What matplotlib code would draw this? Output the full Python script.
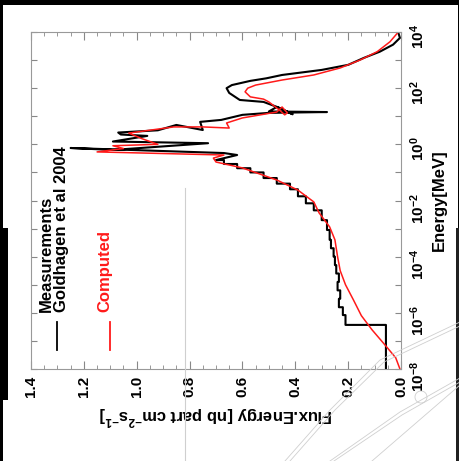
import numpy as np
import matplotlib
matplotlib.use("Agg")
import matplotlib.pyplot as plt
from matplotlib.lines import Line2D
from matplotlib.patches import Rectangle, Circle
from matplotlib.ticker import FixedLocator, MultipleLocator, FuncFormatter

plt.rcParams['font.family'] = ['Liberation Sans', 'DejaVu Sans']
plt.rcParams['mathtext.fontset'] = 'custom'
plt.rcParams['mathtext.rm'] = 'Liberation Sans:bold'
plt.rcParams['mathtext.bf'] = 'Liberation Sans:bold'

# measurements (Goldhagen et al 2004): log10(E/MeV) and flux*E
meas_log_e = [-8.0, -6.43, -6.43, -6.08, -6.08, -5.8, -5.8, -5.5, -5.5, -5.2, -5.2,
              -4.9, -4.9, -4.6, -4.6, -4.3, -4.3, -4.0, -4.0, -3.7, -3.7, -3.4, -3.4,
              -3.05, -3.05, -2.7, -2.7, -2.35, -2.35, -2.1, -2.1, -1.85, -1.85, -1.6,
              -1.6, -1.4, -1.4, -1.2, -1.2, -1.0, -1.0, -0.85, -0.85, -0.7, -0.7,
              -0.56, -0.56, -0.38, -0.31, -0.13, -0.2, 0.04, 0.1, 0.3, 0.35, 0.42,
              0.5, 0.69, 0.51, 0.80, 0.87, 1.05, 1.12, 1.15, 1.17, 1.33, 1.07, 1.3,
              1.51, 1.58, 1.83, 2.0, 2.11, 2.26, 2.35, 2.47, 2.65, 2.83, 3.08, 3.30,
              3.55, 3.79, 3.97, 4.0]
meas_flux = [0.057, 0.057, 0.21, 0.21, 0.22, 0.22, 0.235, 0.235, 0.23, 0.23, 0.24,
             0.24, 0.235, 0.235, 0.245, 0.245, 0.25, 0.25, 0.255, 0.255, 0.265, 0.265,
             0.27, 0.27, 0.28, 0.28, 0.30, 0.30, 0.33, 0.33, 0.36, 0.36, 0.39, 0.39,
             0.42, 0.42, 0.47, 0.47, 0.52, 0.52, 0.57, 0.57, 0.62, 0.62, 0.67, 0.67,
             0.70, 0.62, 0.67, 1.25, 1.09, 0.73, 1.09, 0.96, 1.06, 1.07, 0.92, 0.85,
             0.75, 0.76, 0.68, 0.60, 0.50, 0.28, 0.50, 0.47, 0.41, 0.46, 0.52, 0.61,
             0.65, 0.66, 0.64, 0.57, 0.51, 0.45, 0.30, 0.20, 0.14, 0.08, 0.03, 0.004,
             0.01, 0.012]

# computed
calc_log_e = [-8.0, -7.6, -7.15, -6.6, -6.1, -5.54, -5.0, -4.5, -4.0, -3.4, -2.94,
              -2.44, -2.05, -1.63, -1.27, -0.84, -0.63, -0.49, -0.38, -0.27, -0.15,
              -0.05, 0.0, 0.2, 0.40, 0.62, 0.62, 0.58, 0.76, 0.94, 1.15, 1.33, 1.12,
              1.05, 1.22, 1.51, 1.61, 1.69, 1.87, 2.0, 2.11, 2.29, 2.47, 2.72, 3.0,
              3.3, 3.65, 4.0]
calc_flux = [0.004, 0.02, 0.06, 0.11, 0.15, 0.18, 0.21, 0.23, 0.24, 0.25, 0.27,
             0.31, 0.33, 0.39, 0.47, 0.60, 0.70, 0.71, 0.67, 1.15, 1.05, 1.09, 0.92,
             0.98, 1.03, 0.86, 0.75, 0.65, 0.66, 0.60, 0.47, 0.45, 0.43, 0.44, 0.46,
             0.50, 0.52, 0.57, 0.59, 0.58, 0.55, 0.45, 0.33, 0.23, 0.155, 0.09, 0.042,
             0.01]

flux_ticks = [0.0, 0.2, 0.4, 0.6, 0.8, 1.0, 1.2, 1.4]
decades = list(range(-8, 5))

fig = plt.figure(figsize=(4.6, 4.61), dpi=100, facecolor='black')
fig.patches.append(Rectangle((3 / 460, 0), 455 / 460, 456 / 461,
                             transform=fig.transFigure, facecolor='white',
                             edgecolor='none', zorder=-10))
# darker edges of the scanned page
fig.patches.append(Rectangle((0, 1 - 400 / 461), 8 / 460, 172 / 461,
                             transform=fig.transFigure, facecolor='black',
                             edgecolor='none', zorder=-9))
fig.patches.append(Rectangle((456 / 460, 0), 4 / 460, 1 - 228 / 461,
                             transform=fig.transFigure, facecolor='#202020',
                             edgecolor='none', zorder=-9))

ax = fig.add_axes([31 / 460, 1 - 369 / 461, 370 / 460, 337 / 461])

ax.plot(meas_flux, 10.0 ** np.array(meas_log_e), color='black', lw=1.5)
ax.plot(calc_flux, 10.0 ** np.array(calc_log_e), color='#ff1a1a', lw=1.1)

ax.set_xlim(1.4, 0.0)
ax.set_yscale('log')
ax.set_ylim(1e-8, 1e4)

ax.xaxis.set_major_locator(FixedLocator(flux_ticks))
ax.xaxis.set_minor_locator(MultipleLocator(0.05))
ax.xaxis.set_major_formatter(FuncFormatter(lambda v, p: f'{v:.1f}'))
ax.yaxis.set_major_locator(FixedLocator([10.0 ** d for d in decades]))
ax.yaxis.set_minor_locator(FixedLocator([]))
ax.yaxis.set_major_formatter(FuncFormatter(
    lambda v, p: (r'$\mathbf{10^{%d}}$' % round(np.log10(v))) if round(np.log10(v)) % 2 == 0 else ''))

ax.tick_params(axis='x', which='both', direction='in', top=True, bottom=True,
               labelrotation=90, color='#888888')
ax.tick_params(axis='x', which='major', length=6, pad=5, labelsize=11)
ax.tick_params(axis='x', which='minor', length=3)
ax.tick_params(axis='y', which='major', direction='in', left=True, right=True,
               labelleft=False, labelright=True, labelrotation=90, length=4,
               pad=5, labelsize=11, color='#888888')
for lab in ax.get_xticklabels() + ax.get_yticklabels():
    lab.set_fontweight('bold')

for sp in ax.spines.values():
    sp.set_color('#999999')
    sp.set_linewidth(0.8)

ax.set_xlabel(r'Flux.Energy [nb part cm$^{\mathrm{-2}}$s$^{\mathrm{-1}}$]',
              fontsize=12, fontweight='bold', rotation=180, labelpad=5)
ax.yaxis.set_label_position('right')
ax.set_ylabel('Energy[MeV]', fontsize=12, fontweight='bold', rotation=90, labelpad=4)

# legend drawn sideways like the rotated page
ax.add_line(Line2D([0.070, 0.070], [0.056, 0.139], transform=ax.transAxes,
                   color='black', lw=1.3))
ax.text(0.062, 0.169, 'Measurements\nGoldhagen et al 2004', transform=ax.transAxes,
        rotation=90, ha='center', va='bottom', fontsize=12, fontweight='bold',
        linespacing=1.0, multialignment='left')
ax.add_line(Line2D([0.214, 0.214], [0.056, 0.139], transform=ax.transAxes,
                   color='#ff1a1a', lw=1.3))
ax.text(0.200, 0.169, 'Computed', transform=ax.transAxes, rotation=90,
        ha='center', va='bottom', fontsize=12, fontweight='bold', color='#ff1a1a')

# scan artefacts
gray = '#cfcfcf'
fig.add_artist(Line2D([185 / 460, 185 / 460], [0, 1 - 188 / 461], color=gray, lw=0.8))
for pts in ([(285, 461), (330, 410), (380, 360), (460, 322)],
            [(290, 461), (335, 410), (384, 362), (460, 326)],
            [(330, 461), (400, 412), (460, 378)],
            [(334, 461), (402, 415), (460, 382)],
            [(372, 461), (460, 385)]):
    xs = [p[0] / 460 for p in pts]
    ys = [1 - p[1] / 461 for p in pts]
    fig.add_artist(Line2D(xs, ys, color=gray, lw=0.6))
fig.add_artist(Circle((421 / 460, 1 - 397 / 461), 6 / 460, transform=fig.transFigure,
                      facecolor='white', edgecolor=gray, lw=0.6))

fig.savefig('out.png', dpi=100, facecolor=fig.get_facecolor())
